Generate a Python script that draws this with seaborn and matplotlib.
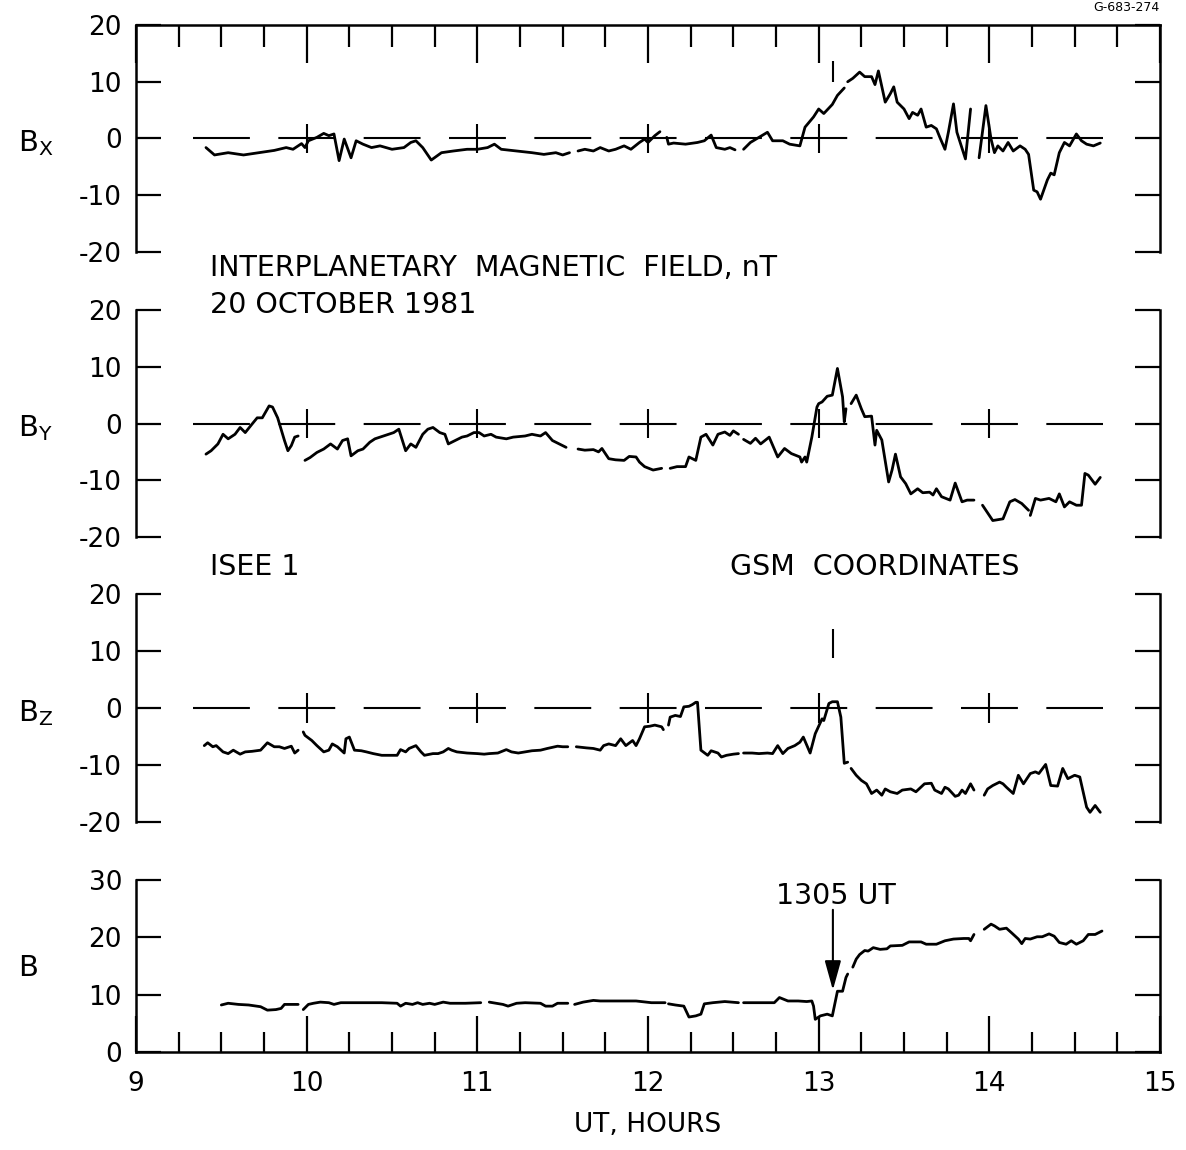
"""
ISEE 1 interplanetary magnetic field, 20 October 1981 (GSM components and magnitude).
"""

import numpy as np
import pandas as pd
import seaborn as sns
import matplotlib.pyplot as plt

# ------------------------------ GLOBALS ------------------------------ #

sns.set_theme(style="white")
plt.rcParams['font.family'] = ['DejaVu Sans']
plt.rcParams['mathtext.default'] = 'regular'
plt.rcParams['lines.scale_dashes'] = False
plt.rcParams['axes.unicode_minus'] = False
plt.rcParams['text.color'] = 'black'
plt.rcParams['xtick.color'] = 'black'
plt.rcParams['ytick.color'] = 'black'

gap = np.nan

# UT hours / nT, NaN marks a break in the trace
bx_hours = [9.41, 9.46, 9.54, 9.63, 9.72, 9.81, 9.88, 9.92,
            9.97, 9.99, 10.01, 10.06, 10.10, 10.13, 10.16, 10.19,
            10.22, 10.26, 10.29, 10.33, 10.38, 10.43, 10.50, 10.57,
            10.61, 10.64, 10.68, 10.73, 10.79, 10.86, 10.94, 11.00,
            11.06, 11.10, 11.14, 11.23, 11.32, 11.39, 11.46, 11.50,
            11.54, gap, 11.59, 11.63, 11.68, 11.72, 11.77, 11.81,
            11.86, 11.90, 11.95, 11.98, 12.00, 12.04, 12.07, gap,
            12.11, 12.12, 12.15, 12.22, 12.29, 12.33, 12.37, 12.40,
            12.45, 12.48, 12.51, gap, 12.56, 12.60, 12.65, 12.70,
            12.73, 12.79, 12.83, 12.89, 12.92, 12.97, 13.00, 13.03,
            13.08, 13.11, 13.15, gap, 13.17, 13.20, 13.24, 13.27,
            13.31, 13.33, 13.35, 13.39, 13.42, 13.44, 13.46, 13.50,
            13.53, 13.55, 13.58, 13.60, 13.63, 13.66, 13.69, 13.71,
            13.74, 13.76, 13.79, 13.81, 13.86, 13.89, gap, 13.94,
            13.98, 14.01, 14.03, 14.05, 14.08, 14.11, 14.14, 14.18,
            14.21, 14.23, 14.26, 14.28, 14.30, 14.34, 14.36, 14.38,
            14.41, 14.44, 14.47, 14.51, 14.54, 14.57, 14.61, 14.65]
bx_values = [-1.6, -2.9, -2.5, -2.9, -2.5, -2.1, -1.6, -1.9,
             -0.9, -1.6, -0.4, 0.2, 0.9, 0.5, 0.8, -3.9,
             -0.1, -3.4, -0.4, -1.0, -1.6, -1.3, -1.9, -1.6,
             -0.7, -0.4, -1.6, -3.8, -2.5, -2.2, -1.9, -1.9,
             -1.6, -1.0, -1.9, -2.2, -2.5, -2.8, -2.5, -2.9,
             -2.5, gap, -2.2, -1.9, -2.2, -1.6, -2.2, -1.9,
             -1.3, -1.9, -0.7, -0.1, -0.7, 0.5, 1.2, gap,
             0.2, -1.0, -0.8, -1.0, -0.7, -0.4, 0.6, -1.6,
             -1.9, -1.6, -2.0, gap, -1.9, -0.7, 0.2, 1.1,
             -0.4, -0.4, -1.0, -1.3, 2.0, 3.8, 5.2, 4.4,
             6.0, 7.6, 8.9, gap, 10.0, 10.6, 11.7, 10.9,
             10.9, 9.5, 11.9, 6.4, 7.9, 9.1, 6.4, 5.2,
             3.5, 4.6, 4.1, 5.2, 2.0, 2.3, 1.7, 0.2,
             -1.9, 1.1, 6.1, 1.1, -3.6, 5.2, gap, -3.4,
             5.8, -0.1, -2.5, -1.3, -2.2, -0.7, -2.2, -1.3,
             -1.9, -2.8, -9.1, -9.4, -10.7, -7.3, -6.1, -6.4,
             -2.5, -0.7, -1.3, 0.8, -0.4, -1.0, -1.3, -0.8]

by_hours = [9.41, 9.44, 9.48, 9.51, 9.54, 9.58, 9.61, 9.64,
            9.68, 9.71, 9.74, 9.78, 9.80, 9.83, 9.87, 9.89,
            9.91, 9.93, 9.95, gap, 9.99, 10.02, 10.06, 10.10,
            10.14, 10.18, 10.21, 10.24, 10.26, 10.30, 10.33, 10.37,
            10.40, 10.43, 10.48, 10.51, 10.54, 10.58, 10.61, 10.64,
            10.68, 10.71, 10.74, 10.78, 10.81, 10.83, 10.87, 10.91,
            10.94, 10.98, 11.01, 11.04, 11.08, 11.11, 11.17, 11.21,
            11.28, 11.32, 11.37, 11.40, 11.44, 11.48, 11.52, gap,
            11.59, 11.63, 11.68, 11.71, 11.73, 11.77, 11.81, 11.86,
            11.89, 11.93, 11.95, 11.98, 12.03, 12.08, gap, 12.13,
            12.17, 12.22, 12.24, 12.28, 12.31, 12.34, 12.38, 12.41,
            12.45, 12.48, 12.50, 12.53, gap, 12.56, 12.60, 12.63,
            12.66, 12.71, 12.73, 12.76, 12.80, 12.84, 12.89, 12.90,
            12.92, 12.93, 12.96, 12.99, 13.00, 13.02, 13.05, 13.08,
            13.11, 13.14, 13.15, 13.16, gap, 13.19, 13.22, 13.25,
            13.27, 13.31, 13.33, 13.34, 13.37, 13.41, 13.43, 13.45,
            13.48, 13.51, 13.54, 13.58, 13.61, 13.65, 13.67, 13.69,
            13.72, 13.77, 13.80, 13.84, 13.87, 13.91, gap, 13.96,
            14.02, 14.08, 14.12, 14.15, 14.19, 14.23, gap, 14.24,
            14.27, 14.30, 14.35, 14.39, 14.41, 14.44, 14.47, 14.51,
            14.54, 14.56, 14.58, 14.62, 14.65]
by_values = [-5.4, -4.8, -3.6, -1.9, -2.7, -1.9, -0.7, -1.6,
             -0.1, 1.0, 1.0, 3.1, 2.9, 1.0, -3.0, -4.8,
             -3.9, -2.4, -2.2, gap, -6.5, -6.0, -5.1, -4.5,
             -3.6, -4.5, -3.0, -2.7, -5.7, -4.8, -4.5, -3.3,
             -2.7, -2.4, -1.9, -1.6, -1.0, -4.8, -3.6, -4.2,
             -1.9, -1.0, -0.7, -1.6, -1.9, -3.6, -3.0, -2.4,
             -2.2, -1.6, -1.6, -2.2, -1.9, -2.4, -2.7, -2.4,
             -2.2, -1.9, -2.2, -1.6, -3.0, -3.6, -4.2, gap,
             -4.5, -4.7, -4.6, -5.0, -4.4, -6.2, -6.4, -6.5,
             -5.8, -5.9, -6.8, -7.6, -8.2, -7.9, gap, -7.9,
             -7.6, -7.6, -5.9, -6.5, -2.4, -1.9, -3.8, -1.9,
             -1.5, -2.1, -1.3, -1.9, gap, -2.8, -3.5, -2.6,
             -3.6, -2.4, -3.8, -5.9, -4.4, -5.3, -5.9, -6.8,
             -5.9, -6.8, -2.4, 2.9, 3.5, 3.8, 4.8, 5.0,
             9.7, 4.7, 0.3, 2.6, gap, 3.5, 5.0, 2.6,
             1.2, 1.3, -3.8, -1.2, -2.9, -10.3, -8.2, -5.4,
             -9.4, -10.6, -12.4, -11.5, -12.2, -12.1, -12.6, -11.5,
             -12.9, -13.5, -10.5, -13.8, -13.5, -13.5, gap, -14.4,
             -17.1, -16.8, -13.8, -13.4, -14.1, -15.3, gap, -16.2,
             -13.2, -13.5, -13.2, -13.8, -12.4, -14.7, -13.8, -14.4,
             -14.4, -8.8, -9.1, -10.7, -9.5]

bz_hours = [9.40, 9.42, 9.45, 9.47, 9.51, 9.54, 9.57, 9.61,
            9.64, 9.68, 9.73, 9.77, 9.81, 9.84, 9.87, 9.91,
            9.93, 9.95, gap, 9.98, 9.99, 10.03, 10.06, 10.10,
            10.13, 10.15, 10.18, 10.22, 10.23, 10.25, 10.28, 10.32,
            10.35, 10.39, 10.44, 10.48, 10.53, 10.55, 10.58, 10.60,
            10.64, 10.67, 10.69, 10.74, 10.77, 10.80, 10.83, 10.85,
            10.88, 10.94, 11.00, 11.04, 11.07, 11.12, 11.17, 11.20,
            11.24, 11.28, 11.32, 11.37, 11.41, 11.47, 11.50, 11.53,
            gap, 11.58, 11.64, 11.68, 11.72, 11.74, 11.77, 11.81,
            11.84, 11.87, 11.91, 11.93, 11.95, 11.98, 12.01, 12.04,
            12.08, 12.09, gap, 12.12, 12.13, 12.16, 12.19, 12.21,
            12.24, 12.26, 12.28, 12.29, 12.31, 12.35, 12.37, 12.41,
            12.43, 12.46, 12.50, 12.53, gap, 12.56, 12.61, 12.65,
            12.70, 12.73, 12.76, 12.79, 12.82, 12.86, 12.89, 12.91,
            12.95, 12.98, 13.02, 13.03, 13.06, 13.08, 13.11, 13.13,
            13.15, 13.17, gap, 13.19, 13.22, 13.25, 13.28, 13.31,
            13.34, 13.37, 13.39, 13.42, 13.46, 13.49, 13.54, 13.57,
            13.62, 13.66, 13.68, 13.72, 13.74, 13.76, 13.80, 13.82,
            13.84, 13.86, 13.89, 13.91, gap, 13.97, 13.99, 14.02,
            14.06, 14.08, 14.10, 14.14, 14.17, 14.20, 14.24, 14.27,
            14.29, 14.33, 14.36, 14.40, 14.43, 14.46, 14.50, 14.53,
            14.57, 14.59, 14.62, 14.65]
bz_values = [-6.6, -6.1, -6.8, -6.6, -7.7, -8.0, -7.4, -8.1,
             -7.7, -7.6, -7.4, -6.1, -6.8, -6.8, -7.1, -6.7,
             -7.9, -7.4, gap, -4.2, -4.8, -5.7, -6.6, -7.7,
             -7.4, -6.3, -6.8, -7.9, -5.4, -5.1, -7.4, -7.5,
             -7.7, -8.0, -8.3, -8.3, -8.3, -7.3, -7.7, -7.1,
             -6.6, -7.7, -8.3, -8.0, -8.0, -7.7, -7.1, -7.4,
             -7.7, -7.9, -8.0, -8.1, -8.0, -7.9, -7.3, -7.7,
             -7.9, -7.7, -7.5, -7.4, -7.1, -6.7, -6.8, -6.8,
             gap, -6.8, -7.0, -7.1, -7.4, -6.6, -6.3, -6.6,
             -5.4, -6.6, -5.7, -6.6, -5.4, -3.3, -3.2, -3.0,
             -3.3, -3.8, gap, -3.0, -1.6, -1.3, -1.5, 0.2,
             0.3, 0.6, 1.0, 1.0, -7.4, -8.3, -7.5, -7.9,
             -8.6, -8.3, -8.1, -8.0, gap, -7.9, -7.9, -8.0,
             -7.9, -8.0, -6.6, -8.0, -7.1, -6.6, -6.0, -5.1,
             -7.9, -4.5, -1.9, -2.2, 0.8, 1.1, 1.1, -1.6,
             -9.7, -9.5, gap, -10.6, -11.8, -12.7, -13.3, -15.0,
             -14.4, -15.3, -14.2, -14.7, -15.0, -14.4, -14.2, -14.7,
             -13.3, -13.2, -14.4, -15.0, -13.9, -14.2, -15.5, -15.3,
             -14.4, -15.0, -13.3, -14.4, gap, -15.3, -14.2, -13.6,
             -13.0, -13.3, -13.9, -15.0, -11.8, -13.3, -11.5, -11.2,
             -11.5, -9.9, -13.6, -13.7, -10.6, -12.4, -11.8, -12.1,
             -17.4, -18.3, -17.1, -18.3]

b_hours = [9.50, 9.54, 9.60, 9.66, 9.73, 9.77, 9.82, 9.85,
           9.87, 9.91, 9.95, gap, 9.98, 10.01, 10.04, 10.08,
           10.13, 10.16, 10.20, 10.26, 10.35, 10.44, 10.53, 10.55,
           10.58, 10.62, 10.65, 10.68, 10.72, 10.75, 10.80, 10.84,
           10.93, 11.02, gap, 11.07, 11.11, 11.15, 11.18, 11.23,
           11.28, 11.37, 11.40, 11.44, 11.47, 11.53, gap, 11.57,
           11.62, 11.68, 11.72, 11.81, 11.93, 12.02, 12.10, gap,
           12.12, 12.16, 12.21, 12.24, 12.28, 12.31, 12.33, 12.38,
           12.45, 12.53, gap, 12.56, 12.65, 12.74, 12.77, 12.82,
           12.88, 12.93, 12.96, 12.97, 12.98, 13.01, 13.05, 13.08,
           13.11, 13.14, 13.16, 13.17, gap, 13.20, 13.22, 13.24,
           13.27, 13.29, 13.32, 13.36, 13.40, 13.42, 13.49, 13.53,
           13.60, 13.63, 13.69, 13.74, 13.79, 13.85, 13.88, 13.89,
           13.91, gap, 13.97, 14.01, 14.03, 14.06, 14.10, 14.13,
           14.17, 14.19, 14.21, 14.24, 14.28, 14.31, 14.35, 14.38,
           14.41, 14.45, 14.48, 14.51, 14.55, 14.58, 14.62, 14.66]
b_values = [8.2, 8.5, 8.3, 8.2, 7.9, 7.3, 7.4, 7.6,
            8.3, 8.3, 8.3, gap, 7.4, 8.3, 8.5, 8.7,
            8.6, 8.3, 8.6, 8.6, 8.6, 8.6, 8.5, 8.0,
            8.5, 8.3, 8.6, 8.3, 8.5, 8.3, 8.7, 8.5,
            8.5, 8.6, gap, 8.7, 8.5, 8.3, 8.0, 8.5,
            8.6, 8.5, 8.0, 8.0, 8.5, 8.5, gap, 8.3,
            8.7, 9.0, 8.9, 8.9, 8.9, 8.6, 8.6, gap,
            8.4, 8.2, 8.0, 6.1, 6.3, 6.6, 8.4, 8.6,
            8.8, 8.6, gap, 8.6, 8.6, 8.6, 9.5, 8.9,
            8.9, 8.8, 8.9, 8.0, 5.7, 6.3, 6.6, 6.3,
            10.6, 10.6, 13.0, 13.6, gap, 14.8, 16.2, 17.0,
            17.7, 17.6, 18.2, 17.9, 18.0, 18.5, 18.6, 19.2,
            19.2, 18.8, 18.8, 19.4, 19.7, 19.8, 19.8, 19.4,
            20.5, gap, 21.4, 22.3, 22.0, 21.4, 21.6, 20.8,
            19.7, 18.9, 19.8, 19.7, 20.1, 20.1, 20.6, 20.2,
            19.1, 18.8, 19.4, 18.8, 19.4, 20.5, 20.5, 21.1]

panel_labels = ['$B_X$', '$B_Y$', '$B_Z$', 'B']
component_ticks = [-20, -10, 0, 10, 20]
magnitude_ticks = [0, 10, 20, 30]
hour_ticks = [9, 10, 11, 12, 13, 14, 15]
cross_hours = [10, 11, 12, 13, 14]
event_hour = 13 + 5 / 60            # 1305 UT
zero_line_span = [9 + 1 / 3, 14 + 2 / 3]

W, H = 1186, 1150
LW = 2.0
TXT = 20.5


# ------------------------------ FUNCTIONS ------------------------------ #

def trace_frame(hours, values):
    df = pd.DataFrame({'hour': hours, 'value': values})
    df['seg'] = df['value'].isna().cumsum()
    return df.dropna()


def style_axis(ax, ylim, yticks):
    ax.set_xlim(9, 15)
    ax.set_ylim(*ylim)
    ax.set_yticks(yticks)
    ax.set_xlabel('')
    ax.set_ylabel('')
    ax.set_facecolor('white')
    for s in ax.spines.values():
        s.set_color('black')
        s.set_linewidth(1.8)
    ax.tick_params(axis='y', which='both', direction='in', length=18, width=1.6,
                   left=True, right=True, labelleft=True, labelright=False,
                   labelsize=19, pad=10, colors='black')
    ax.set_xticks(hour_ticks)
    ax.set_xticks(np.arange(9, 15.01, 0.25), minor=True)


def zero_reference(ax):
    ax.plot(zero_line_span, [0, 0], color='black', lw=1.5, dashes=(40.96, 20.48),
            solid_capstyle='butt', dash_capstyle='butt')
    ax.vlines(cross_hours, -2.6, 2.6, color='black', lw=1.5)


# ------------------------------ MAIN ------------------------------ #

fig = plt.figure(figsize=(W / 100, H / 100), dpi=100)
left, width = 136 / W, 1024 / W
ax_bx = fig.add_axes([left, 1 - 252 / H, width, 227 / H])
ax_by = fig.add_axes([left, 1 - 537 / H, width, 227 / H])
ax_bz = fig.add_axes([left, 1 - 822 / H, width, 228 / H])
ax_b = fig.add_axes([left, 1 - 1052 / H, width, 172 / H])

traces = [(ax_bx, bx_hours, bx_values), (ax_by, by_hours, by_values),
          (ax_bz, bz_hours, bz_values), (ax_b, b_hours, b_values)]

for ax, hrs, vals in traces:
    sns.lineplot(data=trace_frame(hrs, vals), x='hour', y='value', units='seg',
                 estimator=None, sort=False, color='black', linewidth=LW,
                 legend=False, ax=ax)

for ax in (ax_bx, ax_by, ax_bz):
    style_axis(ax, (-20, 20), component_ticks)
    zero_reference(ax)
    ax.spines['bottom'].set_visible(False)
    ax.tick_params(axis='x', which='both', bottom=False, top=False,
                   labelbottom=False, labeltop=False)
for ax in (ax_by, ax_bz):
    ax.spines['top'].set_visible(False)

# top time axis on the Bx panel
ax_bx.tick_params(axis='x', which='major', top=True, direction='in', length=27, width=1.6)
ax_bx.tick_params(axis='x', which='minor', top=True, direction='in', length=16, width=1.6)

style_axis(ax_b, (0, 30), magnitude_ticks)
ax_b.spines['top'].set_visible(False)
ax_b.tick_params(axis='x', which='major', bottom=True, direction='in', length=26, width=1.6,
                 labelsize=19, pad=14, colors='black')
ax_b.tick_params(axis='x', which='minor', bottom=True, direction='in', length=14.5, width=1.6)

# 1305 UT markers
ax_bx.vlines([event_hour], 10, 13.6, color='black', lw=1.5)
ax_bz.vlines([event_hour], 8.7, 13.9, color='black', lw=1.5)
ax_b.annotate('', xy=(event_hour, 10.8), xytext=(event_hour, 24.8),
              arrowprops=dict(arrowstyle='-|>,head_length=0.9,head_width=0.25',
                              color='black', lw=1.5, mutation_scale=20,
                              shrinkA=0, shrinkB=0))
ax_b.text(event_hour + 0.02, 27.2, '1305 UT', ha='center', va='center', fontsize=TXT)

# panel labels
for ax, label, ypx in zip((ax_bx, ax_by, ax_bz, ax_b), panel_labels, (143, 428, 713, 968)):
    fig.text(18 / W, 1 - ypx / H, label, ha='left', va='center', fontsize=21)

fig.text(210 / W, 1 - 268 / H, 'INTERPLANETARY  MAGNETIC  FIELD, nT', ha='left', va='center', fontsize=TXT)
fig.text(210 / W, 1 - 305 / H, '20 OCTOBER 1981', ha='left', va='center', fontsize=TXT)
fig.text(210 / W, 1 - 567 / H, 'ISEE 1', ha='left', va='center', fontsize=TXT)
fig.text(730 / W, 1 - 567 / H, 'GSM  COORDINATES', ha='left', va='center', fontsize=TXT)
fig.text(648 / W, 1 - 1125 / H, 'UT, HOURS', ha='center', va='center', fontsize=19)
fig.text(1160 / W, 1 - 1 / H, 'G-683-274', ha='right', va='top', fontsize=9)

fig.savefig('out.png', dpi=100, facecolor='white')
